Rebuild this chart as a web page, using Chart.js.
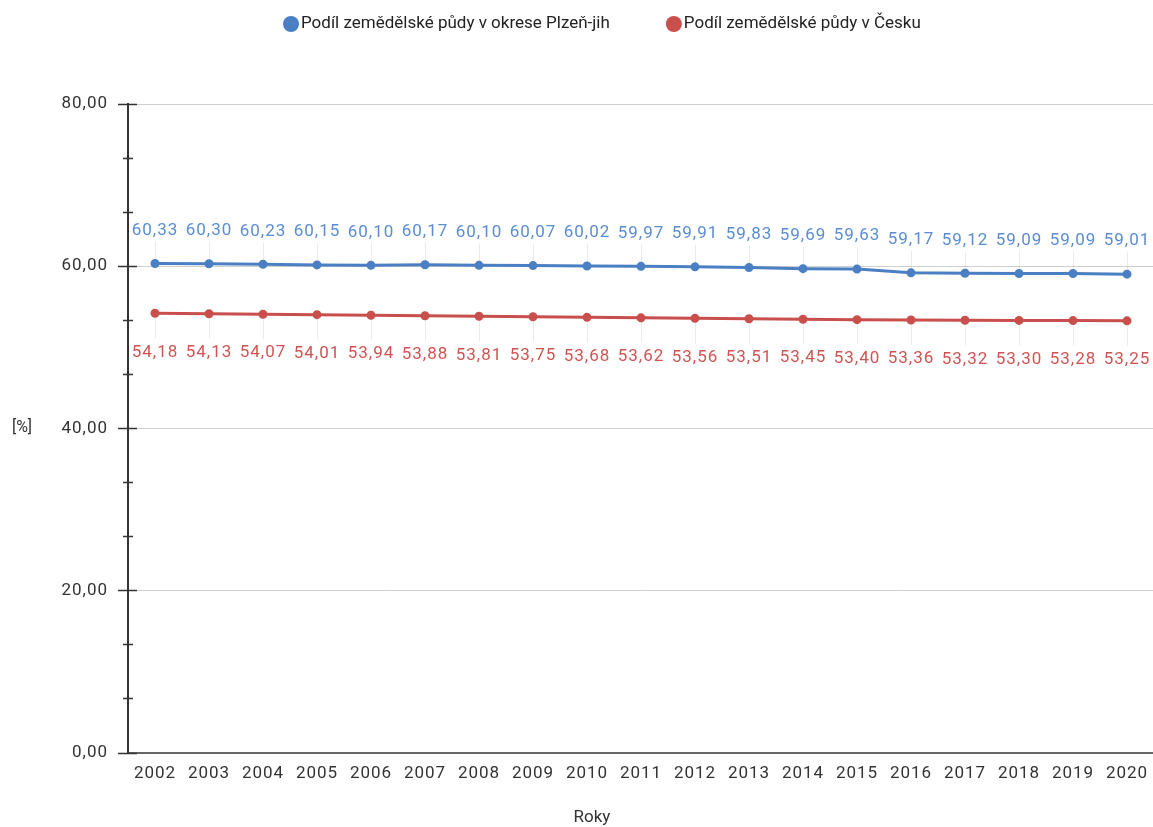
<!DOCTYPE html>
<html lang="cs">
<head>
<meta charset="utf-8">
<title>Podíl zemědělské půdy</title>
<script src="https://cdn.jsdelivr.net/npm/chart.js@4/dist/chart.umd.min.js"></script>
<style>
  html, body { margin: 0; padding: 0; background: #fff; overflow: hidden; }
  #wrap { width: 1160px; height: 827px; }
</style>
</head>
<body>
<div id="wrap"><canvas id="chart" width="1160" height="827"></canvas></div>
<script>
// Years on the horizontal axis
const years = ['2002','2003','2004','2005','2006','2007','2008','2009','2010','2011',
               '2012','2013','2014','2015','2016','2017','2018','2019','2020'];

// Share of agricultural land, district Plzeň-jih [%]
const plzenJih = [60.33, 60.30, 60.23, 60.15, 60.10, 60.17, 60.10, 60.07, 60.02, 59.97,
                  59.91, 59.83, 59.69, 59.63, 59.17, 59.12, 59.09, 59.09, 59.01];

// Share of agricultural land, Czechia [%]
const cesko = [54.18, 54.13, 54.07, 54.01, 53.94, 53.88, 53.81, 53.75, 53.68, 53.62,
               53.56, 53.51, 53.45, 53.40, 53.36, 53.32, 53.30, 53.28, 53.25];

const seriesNames = ['Podíl zemědělské půdy v okrese Plzeň-jih', 'Podíl zemědělské půdy v Česku'];
const yTicks = [0, 20, 40, 60, 80];

const FONT = 'Roboto, "Liberation Sans", Arial, sans-serif';
const fmt = v => v.toFixed(2).replace('.', ',');

// Slightly spaced-out digits for tick and value labels
const spacing = {
  id: 'spacing',
  beforeDraw(chart) { chart.ctx.letterSpacing = '1px'; }
};

// Value labels with thin leader lines; blue above the line, red below
const valueLabels = {
  id: 'valueLabels',
  afterDatasetsDraw(chart) {
    const ctx = chart.ctx;
    chart.data.datasets.forEach((ds, di) => {
      const meta = chart.getDatasetMeta(di);
      const above = ds.labelSide === 'above';
      meta.data.forEach((pt, i) => {
        const x = pt.x, y = pt.y;
        ctx.save();
        ctx.strokeStyle = 'rgba(0,0,0,0.08)';
        ctx.lineWidth = 1;
        ctx.beginPath();
        if (above) { ctx.moveTo(x + 0.5, y - 4); ctx.lineTo(x + 0.5, y - 22); }
        else { ctx.moveTo(x + 0.5, y + 4); ctx.lineTo(x + 0.5, y + 25); }
        ctx.stroke();
        ctx.fillStyle = ds.labelColor;
        ctx.font = '17px ' + FONT;
        ctx.letterSpacing = '1px';
        ctx.textAlign = 'center';
        ctx.textBaseline = 'middle';
        ctx.fillText(fmt(ds.data[i]), x, above ? y - 33 : y + 39);
        ctx.restore();
      });
    });
  }
};

// Axis decorations: tick marks across the y axis, axis titles and the legend
const decorations = {
  id: 'decorations',
  afterDraw(chart) {
    const ctx = chart.ctx;
    const y = chart.scales.y;
    const left = chart.chartArea.left;
    ctx.save();
    ctx.letterSpacing = '0px';
    ctx.strokeStyle = '#333';
    ctx.lineWidth = 1.5;
    for (let i = 0; i <= 12; i++) {
      const v = i * 20 / 3;
      const py = Math.round(y.getPixelForValue(v)) + 0.5;
      const major = i % 3 === 0;
      ctx.beginPath();
      ctx.moveTo(left - (major ? 10 : 5), py);
      ctx.lineTo(left + (major ? 9 : 5), py);
      ctx.stroke();
    }
    ctx.fillStyle = '#333';
    ctx.font = '16px ' + FONT;
    ctx.textAlign = 'center';
    ctx.textBaseline = 'middle';
    ctx.fillText('[%]', 22, (chart.chartArea.top + chart.chartArea.bottom) / 2);
    ctx.font = '17px ' + FONT;
    ctx.fillText('Roky', 592, 818);

    // legend
    ctx.font = '17px ' + FONT;
    ctx.textAlign = 'left';
    let lx = 283;
    const ly = 24;
    chart.data.datasets.forEach((ds, di) => {
      ctx.fillStyle = ds.borderColor;
      ctx.beginPath();
      ctx.arc(lx + 8, ly, 8, 0, Math.PI * 2);
      ctx.fill();
      ctx.fillStyle = '#222';
      ctx.fillText(ds.label, lx + 18, ly);
      lx += 18 + ctx.measureText(ds.label).width + 56;
    });
    ctx.restore();
  }
};

new Chart(document.getElementById('chart'), {
  type: 'line',
  data: {
    labels: years,
    datasets: [
      {
        label: seriesNames[0], data: plzenJih,
        borderColor: '#4a7fc4', backgroundColor: '#4a7fc4',
        labelColor: '#5a8dd2', labelSide: 'above',
        borderWidth: 3, pointRadius: 3, pointHoverRadius: 3, tension: 0
      },
      {
        label: seriesNames[1], data: cesko,
        borderColor: '#c94f4c', backgroundColor: '#c94f4c',
        labelColor: '#cf5452', labelSide: 'below',
        borderWidth: 3, pointRadius: 3, pointHoverRadius: 3, tension: 0
      }
    ]
  },
  options: {
    responsive: false,
    animation: false,
    events: [],
    layout: { padding: { top: 104, right: 0, left: 0, bottom: 0 } },
    plugins: { legend: { display: false }, tooltip: { enabled: false } },
    scales: {
      x: {
        offset: true,
        grid: { display: false, drawTicks: false },
        border: { display: true, color: '#666', width: 2 },
        ticks: { color: '#333', font: { family: FONT, size: 17 }, padding: 11, maxRotation: 0, autoSkip: false },
        afterFit(s) { s.height = 74.5; }
      },
      y: {
        min: 0, max: 80,
        afterBuildTicks(s) { s.ticks = yTicks.map(v => ({ value: v })); },
        grid: { color: '#cfcfcf', lineWidth: 1, drawTicks: false },
        border: { display: true, color: '#333', width: 2 },
        ticks: { color: '#333', font: { family: FONT, size: 17 }, padding: 20, callback: v => fmt(v) },
        afterFit(s) { s.width = 128; }
      }
    }
  },
  plugins: [spacing, valueLabels, decorations]
});
</script>
</body>
</html>
